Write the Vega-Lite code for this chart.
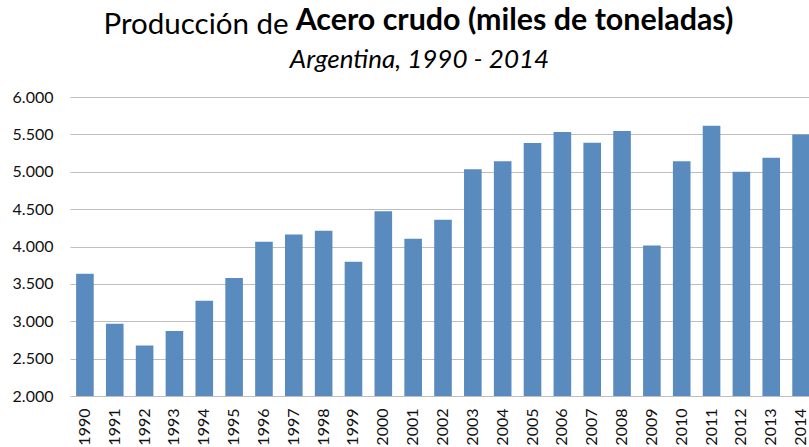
{
  "$schema": "https://vega.github.io/schema/vega-lite/v6.json",
  "autosize": {"type": "none"},
  "width": 739,
  "height": 299,
  "padding": {"left": 70, "top": 97, "right": 0, "bottom": 51},
  "background": "#ffffff",
  "title": {
    "text": "Acero crudo (miles de toneladas)",
    "font": "Lato",
    "fontSize": 30.4,
    "fontWeight": "bold",
    "color": "#000000",
    "anchor": "middle",
    "frame": "group",
    "baseline": "alphabetic",
    "dx": 75,
    "dy": 51,
    "offset": 0
  },
  "data": {
    "values": [
      {"year": "1990", "value": 3636},
      {"year": "1991", "value": 2966},
      {"year": "1992", "value": 2675},
      {"year": "1993", "value": 2870},
      {"year": "1994", "value": 3274},
      {"year": "1995", "value": 3577},
      {"year": "1996", "value": 4065},
      {"year": "1997", "value": 4159},
      {"year": "1998", "value": 4210},
      {"year": "1999", "value": 3797},
      {"year": "2000", "value": 4470},
      {"year": "2001", "value": 4103},
      {"year": "2002", "value": 4359},
      {"year": "2003", "value": 5033},
      {"year": "2004", "value": 5140},
      {"year": "2005", "value": 5386},
      {"year": "2006", "value": 5533},
      {"year": "2007", "value": 5387},
      {"year": "2008", "value": 5544},
      {"year": "2009", "value": 4015},
      {"year": "2010", "value": 5140},
      {"year": "2011", "value": 5614},
      {"year": "2012", "value": 5000},
      {"year": "2013", "value": 5186},
      {"year": "2014", "value": 5497}
    ]
  },
  "mark": {"type": "bar", "color": "#5A8BBE", "clip": true},
  "encoding": {
    "x": {
      "field": "year",
      "type": "ordinal",
      "scale": {"range": [0, 746], "paddingInner": 0.41, "paddingOuter": 0.205},
      "axis": {
        "title": "Argentina, 1990 - 2014",
        "titleFont": "Lato",
        "titleFontSize": 26,
        "titleFontStyle": "italic",
        "titleFontWeight": "normal",
        "titleColor": "#000000",
        "titleX": 349,
        "titleY": -329,
        "titleAlign": "center",
        "titleBaseline": "alphabetic",
        "labelAngle": -90,
        "labelFont": "Lato",
        "labelFontSize": 16,
        "labelColor": "#111111",
        "labelPadding": 12,
        "ticks": false,
        "tickSize": 0,
        "domain": false,
        "grid": false
      }
    },
    "y": {
      "field": "value",
      "type": "quantitative",
      "scale": {"domain": [2000, 6000], "nice": false, "zero": false},
      "axis": {
        "values": [2000, 2500, 3000, 3500, 4000, 4500, 5000, 5500, 6000],
        "labelExpr": "replace(format(datum.value, ','), ',', '.')",
        "labelFont": "Lato",
        "labelFontSize": 16,
        "labelColor": "#111111",
        "labelPadding": 17,
        "ticks": false,
        "tickSize": 0,
        "domain": false,
        "grid": true,
        "gridColor": "#BEBEBE",
        "gridWidth": 1,
        "title": "Producción de",
        "titleFont": "Lato",
        "titleFontSize": 29.5,
        "titleFontWeight": "normal",
        "titleColor": "#000000",
        "titleAngle": 0,
        "titleX": 33,
        "titleY": -64,
        "titleAlign": "left",
        "titleBaseline": "alphabetic"
      }
    }
  },
  "config": {
    "view": {"stroke": null}
  }
}
